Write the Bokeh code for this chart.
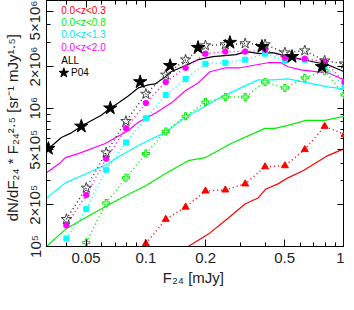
from bokeh.plotting import figure
from bokeh.models import LogAxis, FixedTicker, Label, CustomJSTickFormatter, Range1d
from bokeh.embed import file_html
from bokeh.resources import INLINE

# ---------------- data ----------------
# binned flux centres (mJy) shared by the binned (dotted) series
bin_flux = [0.0398, 0.0501, 0.0631, 0.0794, 0.1, 0.1259, 0.1585, 0.1995,
            0.2512, 0.3162, 0.3981, 0.5012, 0.631, 0.7943, 1.0]

all_bins = [1.574e5, 2.65e5, 4.77e5, 8.04e5, 1.265e6, 1.74e6, 2.24e6, 2.836e6,
            2.884e6, 2.933e6, 2.884e6, 2.52e6, 2.606e6, 2.203e6, 2.095e6]
z20_bins = [1.423e5, 2.36e5, 4.31e5, 7.145e5, 1.088e6, 1.548e6, 1.958e6, 2.477e6,
            2.563e6, 2.563e6, 2.65e6, 2.317e6, 2.278e6, 2.167e6, 1.548e6]
z13_bins = [1.144e5, 1.862e5, 3.59e5, 5.648e5, 8.45e5, 1.244e6, 1.628e6, 2.095e6,
            2.13e6, 2.24e6, 2.477e6, 2.203e6, 2.24e6, 2.026e6, 1.423e6]
z08_flux = bin_flux[1:]
z08_bins = [1.07e5, 2.06e5, 3.135e5, 4.694e5, 6.79e5, 8.74e5, 1.106e6, 1.202e6,
            1.202e6, 1.548e6, 1.4e6, 1.656e6, 1.863e6, 1.244e6]
z03_flux = bin_flux[4:]
z03_bins = [1.05e5, 1.574e5, 1.926e5, 2.52e5, 2.563e5, 2.836e5, 3.77e5, 3.837e5,
            5.02e5, 7.39e5, 6.46e5]

# P04 points
p04_flux = [0.0323, 0.0473, 0.0662, 0.0936, 0.1325, 0.1831, 0.265, 0.384, 0.544, 0.77]
p04_val = [5.105e5, 7.39e5, 1.0e6, 1.548e6, 2.026e6, 2.74e6, 2.98e6, 2.787e6, 2.356e6, 1.991e6]

# model curves (solid)
all_cx = [0.0316, 0.03754, 0.04165, 0.0473, 0.05249, 0.05962, 0.0662, 0.07259, 0.08149,
          0.0915, 0.1027, 0.1114, 0.125, 0.134, 0.1576, 0.1831, 0.2178, 0.2843, 0.3192,
          0.3752, 0.4362, 0.4786, 0.5826, 0.7345, 0.824, 1.0]
all_cy = [4.936e5, 6.14e5, 6.57e5, 7.39e5, 8.04e5, 8.89e5, 1.0e6, 1.088e6, 1.223e6,
          1.4e6, 1.472e6, 1.496e6, 1.683e6, 1.832e6, 2.026e6, 2.24e6, 2.356e6, 2.436e6,
          2.563e6, 2.477e6, 2.52e6, 2.436e6, 2.278e6, 2.13e6, 2.06e6, 1.832e6]
z20_cx = [0.0316, 0.0371, 0.0393, 0.0457, 0.0624, 0.0815, 0.0915, 0.1114, 0.134, 0.1576,
          0.1831, 0.2104, 0.2532, 0.2978, 0.3192, 0.4118, 0.4786, 0.519, 0.604, 0.7345,
          0.824, 1.0]
z20_cy = [3.41e5, 4.035e5, 4.387e5, 4.694e5, 5.554e5, 6.9e5, 7.9e5, 9.2e5, 1.088e6, 1.33e6,
          1.522e6, 1.832e6, 1.958e6, 1.958e6, 1.991e6, 2.13e6, 2.13e6, 1.991e6, 1.893e6,
          1.832e6, 1.801e6, 1.6e6]
z13_cx = [0.0316, 0.0393, 0.0513, 0.0647, 0.0701, 0.0915, 0.125, 0.1576, 0.1831, 0.2388,
          0.3667, 0.4362, 0.519, 0.6546, 0.824, 1.0]
z13_cy = [2.24e5, 2.884e5, 3.41e5, 3.967e5, 4.31e5, 5.37e5, 6.68e5, 8.6e5, 9.67e5, 1.202e6,
          1.6e6, 1.6e6, 1.628e6, 1.522e6, 1.423e6, 1.376e6]
z08_cx = [0.0316, 0.0393, 0.0544, 0.0751, 0.0992, 0.125, 0.1632, 0.1986, 0.2684, 0.3977,
          0.4464, 0.519, 0.6392, 0.796, 1.0]
z08_cy = [1.0e5, 1.331e5, 1.741e5, 2.24e5, 2.741e5, 3.355e5, 4.17e5, 4.387e5, 5.554e5,
          7.145e5, 7.145e5, 7.516e5, 8.17e5, 8.17e5, 8.74e5]
z03_cx = [0.1632, 0.2056, 0.2593, 0.3155, 0.3667, 0.4023, 0.4624, 0.519, 0.618, 0.6546,
          0.824, 1.0]
z03_cy = [1.0e5, 1.224e5, 1.6e5, 2.026e5, 2.24e5, 2.606e5, 2.836e5, 3.135e5, 3.524e5,
          3.71e5, 4.54e5, 5.105e5]

x_ticks = [0.05, 0.1, 0.2, 0.5, 1.0]
x_minor = [0.04, 0.06, 0.07, 0.08, 0.09, 0.3, 0.4, 0.6, 0.7, 0.8, 0.9]
y_ticks = [1e5, 2e5, 5e5, 1e6, 2e6, 5e6]
y_minor = [3e5, 4e5, 6e5, 7e5, 8e5, 9e5, 3e6, 4e6, 6e6]

legend_labels = ["0.0<z<0.3", "0.0<z<0.8", "0.0<z<1.3", "0.0<z<2.0", "ALL"]
legend_colors = ["#ff0000", "#00ee00", "#00e5ee", "#ff00ff", "#000000"]

# ---------------- figure ----------------
FONT = "Liberation Sans"
p = figure(frame_width=298, height=294, x_axis_type="log", y_axis_type="log",
           x_range=Range1d(0.0316, 1.0), y_range=Range1d(1e5, 6e6),
           output_backend="svg", toolbar_location=None,
           x_axis_label="F₂₄  [mJy]",
           y_axis_label="dN/dF₂₄ * F₂₄²·⁵  [sr⁻¹  mJy¹·⁵]")
p.min_border_left = 40
p.min_border_right = 0
p.min_border_top = 0
p.min_border_bottom = 48
p.grid.visible = False
p.outline_line_color = "black"
p.background_fill_color = "white"
p.border_fill_color = "white"

xfmt = CustomJSTickFormatter(code="return String(Math.round(tick*100)/100);")
yfmt = CustomJSTickFormatter(code="""
const sup = {"0":"⁰","1":"¹","2":"²","3":"³","4":"⁴","5":"⁵","6":"⁶","7":"⁷","8":"⁸","9":"⁹"};
const e = Math.floor(Math.log10(tick) + 1e-6);
const m = Math.round(tick / Math.pow(10, e));
const s = String(e).split('').map(c => sup[c]).join('');
return (m === 1 ? "" : m + "×") + "10" + s;
""")
blank = CustomJSTickFormatter(code="return '';")


def style(ax, labels=True):
    ax.major_tick_in = 7
    ax.major_tick_out = 0
    ax.minor_tick_in = 4
    ax.minor_tick_out = 0
    ax.axis_line_color = "black"
    ax.major_tick_line_color = "black"
    ax.minor_tick_line_color = "black"
    ax.major_label_text_font = FONT
    ax.major_label_text_font_size = "15px"
    ax.major_label_text_color = "#222222"
    ax.axis_label_text_font = FONT
    ax.axis_label_text_font_size = "15px"
    ax.axis_label_text_font_style = "normal"
    ax.axis_label_text_color = "#222222"
    ax.major_label_standoff = 2
    ax.axis_label_standoff = 2
    if not labels:
        ax.major_label_standoff = 0
        ax.major_label_text_font_size = "0px"


p.xaxis.ticker = FixedTicker(ticks=x_ticks, minor_ticks=x_minor)
p.xaxis.formatter = xfmt
p.yaxis.ticker = FixedTicker(ticks=y_ticks, minor_ticks=y_minor)
p.yaxis.formatter = yfmt
p.yaxis.major_label_orientation = "vertical"
style(p.xaxis[0])
style(p.yaxis[0])
p.xaxis.major_label_standoff = 6
p.xaxis.axis_label_standoff = 3
p.yaxis.major_label_standoff = 3
p.yaxis.axis_label_standoff = 3

top = LogAxis(ticker=FixedTicker(ticks=x_ticks, minor_ticks=x_minor), formatter=blank)
right = LogAxis(ticker=FixedTicker(ticks=y_ticks, minor_ticks=y_minor), formatter=blank)
style(top, False)
style(right, False)
p.add_layout(top, "above")
p.add_layout(right, "right")

DOT = "1 3"
# solid model curves
p.line(z03_cx, z03_cy, color="#ff0000", line_width=1.2)
p.line(z08_cx, z08_cy, color="#00ee00", line_width=1.2)
p.line(z13_cx, z13_cy, color="#00ffff", line_width=1.2)
p.line(z20_cx, z20_cy, color="#ff00ff", line_width=1.2)
p.line(all_cx, all_cy, color="#000000", line_width=1.2)

# dotted binned series
p.line(z03_flux, z03_bins, color="#ff0000", line_width=1.5, line_dash=DOT)
p.line(z08_flux, z08_bins, color="#00ee00", line_width=1.5, line_dash=DOT)
p.line(bin_flux, z13_bins, color="#00ffff", line_width=1.5, line_dash=DOT)
p.line(bin_flux, z20_bins, color="#ff00ff", line_width=1.5, line_dash=DOT)
p.line(bin_flux, all_bins, color="#333333", line_width=1.5, line_dash=DOT)

p.scatter(z03_flux, z03_bins, marker="triangle", size=7, color="#ff0000")
p.scatter(z08_flux, z08_bins, marker="cross", size=8, line_color="#00ee00", line_width=3)
p.scatter(z08_flux, z08_bins, marker="cross", size=6, line_color="white", line_width=1)
p.scatter(bin_flux, z13_bins, marker="square", size=5, color="#00ffff")
p.scatter(bin_flux, z20_bins, marker="circle", size=5.5, color="#ff00ff")
p.scatter(bin_flux, all_bins, marker="star", size=11, fill_color=None,
          line_color="#444444", line_width=1)
p.scatter(p04_flux, p04_val, marker="star", size=14, color="black")

# key text
key_x = 0.0375
key_y = [5.1e6, 4.14e6, 3.38e6, 2.74e6, 2.22e6]
for lab, col, yy in zip(legend_labels, legend_colors, key_y):
    p.add_layout(Label(x=key_x, y=yy, text=lab, text_color=col, text_font=FONT,
                       text_font_size="10px", text_baseline="middle"))
p.scatter([key_x * 1.03], [1.8e6], marker="star", size=10, color="black")
p.add_layout(Label(x=key_x * 1.12, y=1.8e6, text="P04", text_color="black", text_font=FONT,
                   text_font_size="10px", text_baseline="middle"))

open("out.html", "w").write(file_html(p, INLINE))
